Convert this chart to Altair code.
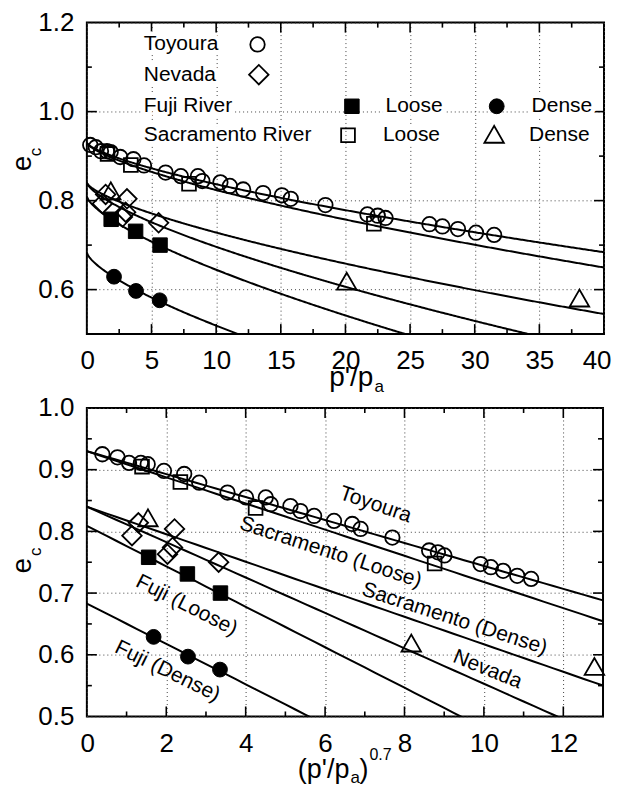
import altair as alt
import pandas as pd

# ---------------- data (p'/pa, e_c) ----------------
toyoura_p = [0.26, 0.69, 1.09, 1.55, 1.84, 2.58, 3.60, 4.42, 6.09, 7.27, 8.59, 8.93, 10.33,
             11.06, 12.09, 13.63, 15.09, 15.77, 18.45, 21.7, 22.5, 23.1, 26.5, 27.5, 28.7, 30.1, 31.5]
toyoura_e = [0.925, 0.920, 0.911, 0.911, 0.909, 0.898, 0.893, 0.879, 0.863, 0.855, 0.855, 0.844, 0.841,
             0.833, 0.825, 0.817, 0.812, 0.804, 0.790, 0.769, 0.766, 0.761, 0.747, 0.742, 0.736, 0.728, 0.723]
nevada_p = [1.2, 1.45, 2.75, 3.0, 3.1, 5.55]
nevada_e = [0.793, 0.814, 0.763, 0.774, 0.804, 0.750]
fuji_loose_p = [1.88, 3.77, 5.66]
fuji_loose_e = [0.758, 0.731, 0.700]
fuji_dense_p = [2.1, 3.8, 5.63]
fuji_dense_e = [0.629, 0.597, 0.576]
sac_loose_p = [1.6, 3.4, 7.9, 22.2]
sac_loose_e = [0.905, 0.880, 0.838, 0.748]
sac_dense_p = [1.85, 20.1, 38.1]
sac_dense_e = [0.822, 0.619, 0.581]

# fitted critical state lines: e = e0 - slope * (p'/pa)^0.7
line_names = ["Toyoura", "Sacramento (Loose)", "Sacramento (Dense)", "Nevada", "Fuji (Loose)", "Fuji (Dense)"]
line_e0 = [0.930, 0.930, 0.840, 0.840, 0.809, 0.683]
line_slope = [0.0186, 0.0212, 0.0223, 0.0287, 0.0328, 0.0327]

# rotated line labels in the lower panel
label_text = ["Toyoura", "Sacramento (Loose)", "Sacramento (Dense)", "Nevada", "Fuji (Loose)", "Fuji (Dense)"]
label_q = [7.27, 6.14, 9.26, 10.09, 2.51, 2.03]
label_e = [0.843, 0.766, 0.658, 0.576, 0.680, 0.573]
label_angle = [19, 18, 18, 22, 27, 26]

# legend of the upper panel
legend_text = ["Toyoura", "Nevada", "Fuji River", "Sacramento River", "Loose", "Dense", "Loose", "Dense"]
legend_tx = [4.4, 4.4, 4.4, 4.4, 23.1, 34.4, 22.9, 34.2]
legend_ty = [1.151, 1.083, 1.012, 0.947, 1.012, 1.012, 0.947, 0.947]

FONT = "Liberation Sans"

series = [
    # name, p, e, shape, filled, size, legend position
    ("Toyoura", toyoura_p, toyoura_e, "circle", False, 210, (13.2, 1.151)),
    ("Nevada", nevada_p, nevada_e, "diamond", False, 380, (13.3, 1.083)),
    ("FujiLoose", fuji_loose_p, fuji_loose_e, "square", True, 210, (20.5, 1.012)),
    ("FujiDense", fuji_dense_p, fuji_dense_e, "circle", True, 220, (31.7, 1.012)),
    ("SacLoose", sac_loose_p, sac_loose_e, "square", False, 190, (20.2, 0.947)),
    ("SacDense", sac_dense_p, sac_dense_e, "triangle-up", False, 380, (31.5, 0.949)),
]


def symbol(shape, filled, size):
    if filled:
        return dict(shape=shape, filled=True, fill="black", stroke="black",
                    strokeWidth=1, size=size, opacity=1)
    return dict(shape=shape, filled=False, fill="transparent", stroke="black",
                strokeWidth=1.8, size=size, opacity=1)


def panel(kind):
    if kind == "top":
        W, H = 518, 312
        xf = "p"
        xdom, ydom = [0, 40], [0.5, 1.2]
        xvals = [0, 5, 10, 15, 20, 25, 30, 35, 40]
        xmaj = [5, 10, 15, 20, 25, 30, 35]
        xmin = [2.5, 7.5, 12.5, 17.5, 22.5, 27.5, 32.5, 37.5]
        yvals = [0.6, 0.8, 1.0, 1.2]
        ymaj = [0.6, 0.8, 1.0]
        ymin = [0.7, 0.9, 1.1]
        xpad = 13
        seq = alt.sequence(0, 40.001, 0.1, as_="p")
        expr_fmt = "{a} - {b} * pow(datum.p, 0.7)"
    else:
        W, H = 517, 309
        xf = "q"
        xdom, ydom = [0, 13], [0.5, 1.0]
        xvals = [0, 2, 4, 6, 8, 10, 12]
        xmaj = [2, 4, 6, 8, 10, 12]
        xmin = [1, 3, 5, 7, 9, 11]
        yvals = [0.5, 0.6, 0.7, 0.8, 0.9, 1.0]
        ymaj = [0.6, 0.7, 0.8, 0.9]
        ymin = [0.55, 0.65, 0.75, 0.85, 0.95]
        xpad = 14
        seq = alt.sequence(0, 13.001, 0.25, as_="q")
        expr_fmt = "{a} - {b} * datum.q"

    xs = alt.Scale(domain=xdom, nice=False, zero=False)
    ys = alt.Scale(domain=ydom, nice=False, zero=False)
    xaxis = alt.Axis(values=xvals, format="d", grid=True, ticks=False, domain=False,
                     labelPadding=xpad, labelFlush=True, labelFlushOffset=7,
                     labelOverlap=False, title=None)
    yaxis = alt.Axis(values=yvals, format=".1f", grid=True, ticks=False, domain=False,
                     labelPadding=13, labelOverlap=False, title=None, minExtent=78, maxExtent=78)

    def X(field):
        return alt.X(field, scale=xs, axis=xaxis)

    def Y(field):
        return alt.Y(field, scale=ys, axis=yaxis)

    calc = {f"c{i}": expr_fmt.format(a=a, b=b) for i, (a, b) in enumerate(zip(line_e0, line_slope))}
    curves = (
        alt.Chart(seq)
        .transform_calculate(**calc)
        .transform_fold(list(calc.keys()), as_=["line", "e"])
        .mark_line(clip=True, color="black", strokeWidth=2)
        .encode(x=X(f"{xf}:Q"), y=Y("e:Q"), detail="line:N")
    )
    layers = [curves]

    for name, ps, es, shape, filled, size, _ in series:
        ch = alt.Chart(pd.DataFrame({"p": ps, "e": es}))
        if kind == "bottom":
            ch = ch.transform_calculate(q="pow(datum.p, 0.7)")
        layers.append(ch.mark_point(**symbol(shape, filled, size)).encode(
            x=X(f"{xf}:Q"), y=Y("e:Q")))

    # inward ticks on all four sides
    def ticks(vals, orient, length):
        df = pd.DataFrame({"v": vals})
        rule = alt.Chart(df).mark_rule(color="black", strokeWidth=1.6)
        if orient == "x":
            return [rule.encode(x=X("v:Q"), y=alt.value(H), y2=alt.value(H - length)),
                    rule.encode(x=X("v:Q"), y=alt.value(0), y2=alt.value(length))]
        return [rule.encode(y=Y("v:Q"), x=alt.value(0), x2=alt.value(length)),
                rule.encode(y=Y("v:Q"), x=alt.value(W), x2=alt.value(W - length))]

    layers += ticks(xmaj, "x", 10)
    layers += ticks(xmin, "x", 5)
    layers += ticks(ymaj, "y", 10)
    layers += ticks(ymin, "y", 5)

    title_df = pd.DataFrame({"k": [0]})
    if kind == "top":
        leg = pd.DataFrame({"x": legend_tx, "y": legend_ty, "t": legend_text})
        # white halo so the dotted grid stops at the legend words
        layers.append(alt.Chart(leg).mark_text(align="left", baseline="middle", fontSize=21,
                                               font=FONT, color="white", stroke="white",
                                               strokeWidth=9).encode(
            x=X("x:Q"), y=Y("y:Q"), text="t:N"))
        layers.append(alt.Chart(leg).mark_text(align="left", baseline="middle", fontSize=21,
                                               font=FONT, color="black").encode(
            x=X("x:Q"), y=Y("y:Q"), text="t:N"))
        for name, ps, es, shape, filled, size, (lx, ly) in series:
            layers.append(alt.Chart(pd.DataFrame({"x": [lx], "y": [ly]})).mark_point(
                **symbol(shape, filled, size)).encode(x=X("x:Q"), y=Y("y:Q")))
        ttl = [
            ("e", -56, 141, 28, 270, "center"),
            ("c", -46, 129.5, 17, 270, "center"),
            ("p'/p", 287, 363.5, 28, 0, "right"),
            ("a", 288, 370, 17, 0, "left"),
        ]
    else:
        lab = pd.DataFrame({"q": label_q, "e": label_e, "t": label_text, "a": label_angle})
        layers.append(alt.Chart(lab).mark_text(align="center", baseline="middle", fontSize=21,
                                               font=FONT, color="black").encode(
            x=X("q:Q"), y=Y("e:Q"), text="t:N", angle=alt.Angle("a:Q", scale=None)))
        ttl = [
            ("e", -56, 158, 28, 270, "center"),
            ("c", -46, 144, 17, 270, "center"),
            ("(p'/p", 263, 371, 27, 0, "right"),
            ("a", 264, 376, 17, 0, "left"),
            (")", 273, 371, 27, 0, "left"),
            ("0.7", 283, 353, 16, 0, "left"),
        ]
    for t, tx, ty, fs, ang, al in ttl:
        layers.append(alt.Chart(title_df).mark_text(fontSize=fs, align=al,
                                                    baseline="alphabetic", font=FONT, color="black")
                      .encode(x=alt.value(tx), y=alt.value(ty), text=alt.value(t),
                              angle=alt.value(ang)))

    return alt.layer(*layers).properties(width=W, height=H)


chart = (
    alt.vconcat(panel("top"), panel("bottom"), spacing=74, bounds="flush")
    .properties(padding={"left": 0, "top": 0, "right": 0, "bottom": 0})
    .configure_axis(labelFont=FONT, labelFontSize=26, labelColor="black",
                    gridDash=[1, 3], gridColor="#444444", gridWidth=1, gridOpacity=1)
    .configure_view(stroke="black", strokeWidth=2)
    .configure_text(font=FONT)
)

chart.save("out.html", embed_options={"renderer": "svg", "actions": False})
